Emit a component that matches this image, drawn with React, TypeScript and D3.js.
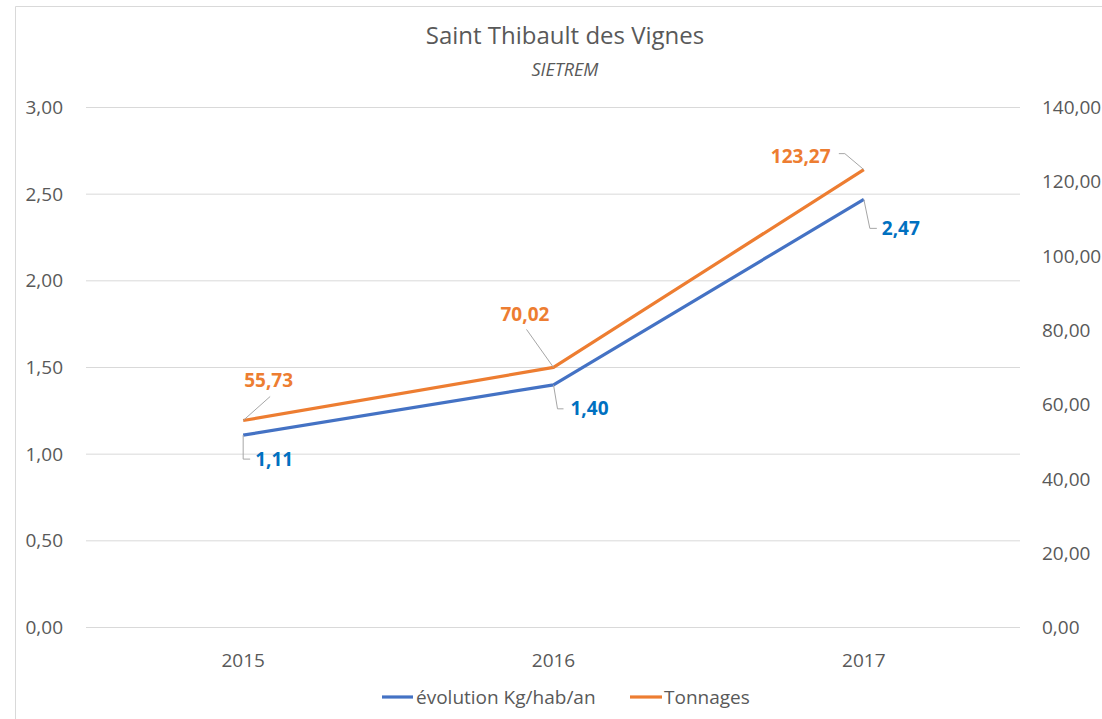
import React from "react";
import * as d3 from "d3";

const years = ["2015", "2016", "2017"];
const kgHabAn = [1.11, 1.40, 2.47];
const tonnages = [55.73, 70.02, 123.27];
const leftTicks = [0, 0.5, 1, 1.5, 2, 2.5, 3];
const rightTicks = [0, 20, 40, 60, 80, 100, 120, 140];
const seriesNames = ["évolution Kg/hab/an", "Tonnages"];

const W = 1102, H = 719;
const FONT = "'Open Sans', 'Noto Sans', sans-serif";
const BLUE = "#4472C4", ORANGE = "#ED7D31", BLUE_LBL = "#0070C0";
const fmt = (v: number) => v.toFixed(2).replace(".", ",");

export default function App() {
  const x = d3.scaleBand<string>().domain(years).range([88, 1019]);
  const cx = (d: string) => (x(d) as number) + x.bandwidth() / 2;
  const yL = d3.scaleLinear().domain([0, 3]).range([627.5, 107.5]);
  const yR = d3.scaleLinear().domain([0, 140]).range([627.5, 107.5]);

  const lineL = d3.line<number>().x((_, i) => cx(years[i])).y((v) => yL(v));
  const lineR = d3.line<number>().x((_, i) => cx(years[i])).y((v) => yR(v));

  const blueLbl = [
    { tx: 12, ty: 24, leader: (px: number, py: number) => `M${px},${py}V${py + 24}h7` },
    { tx: 17, ty: 24, leader: (px: number, py: number) => `M${px},${py}L${px + 4},${py + 24}h6` },
    { tx: 18, ty: 29, leader: (px: number, py: number) => `M${px},${py}L${px + 6},${py + 29}h7` },
  ];
  const orangeLbl = [
    { tx: 1, ty: -40, leader: (px: number, py: number) => `M${px},${py}L${px + 27},${py - 24}` },
    { tx: -53, ty: -53, leader: (px: number, py: number) => `M${px},${py}L${px - 27},${py - 38}` },
    { tx: -93, ty: -13, leader: (px: number, py: number) => `M${px},${py}L${px - 19},${py - 16}h-6` },
  ];

  return (
    <svg width={W} height={H} style={{ position: "absolute", left: 0, top: 0, background: "#fff" }} fontFamily={FONT}>
      <rect x={0} y={0} width={W} height={H} fill="#fff" />
      <path d={`M15.5,${H}V6.5H${W}`} fill="none" stroke="#d9d9d9" strokeWidth={1} />
      <text x={565} y={44} textAnchor="middle" fontSize={24} fill="#595959">Saint Thibault des Vignes</text>
      <text x={565} y={76} textAnchor="middle" fontSize={18} fontStyle="italic" fill="#595959">SIETREM</text>

      {leftTicks.map((t) => (
        <g key={"l" + t}>
          <line x1={86} x2={1020} y1={yL(t)} y2={yL(t)} stroke="#d9d9d9" strokeWidth={1} />
          <text x={63} y={yL(t)} dy="0.35em" textAnchor="end" fontSize={19} fill="#595959">{fmt(t)}</text>
        </g>
      ))}
      {rightTicks.map((t) => (
        <text key={"r" + t} x={1042} y={yR(t)} dy="0.35em" textAnchor="start" fontSize={19} fill="#595959">{fmt(t)}</text>
      ))}
      {years.map((yv) => (
        <text key={yv} x={cx(yv)} y={660} dy="0.35em" textAnchor="middle" fontSize={19} fill="#595959">{yv}</text>
      ))}

      <path d={lineL(kgHabAn) as string} fill="none" stroke={BLUE} strokeWidth={3.2} strokeLinejoin="round" />
      <path d={lineR(tonnages) as string} fill="none" stroke={ORANGE} strokeWidth={3.2} strokeLinejoin="round" />

      {kgHabAn.map((v, i) => {
        const px = cx(years[i]), py = yL(v);
        const o = blueLbl[i];
        return (
          <g key={"b" + i}>
            <path d={o.leader(px, py)} fill="none" stroke="#a6a6a6" strokeWidth={1} />
            <text x={px + o.tx} y={py + o.ty} dy="0.35em" fontSize={19} fontWeight="bold" fill={BLUE_LBL}>{fmt(v)}</text>
          </g>
        );
      })}
      {tonnages.map((v, i) => {
        const px = cx(years[i]), py = yR(v);
        const o = orangeLbl[i];
        return (
          <g key={"o" + i}>
            <path d={o.leader(px, py)} fill="none" stroke="#a6a6a6" strokeWidth={1} />
            <text x={px + o.tx} y={py + o.ty} dy="0.35em" fontSize={19} fontWeight="bold" fill={ORANGE}>{fmt(v)}</text>
          </g>
        );
      })}

      <g>
        <line x1={382} x2={413} y1={697} y2={697} stroke={BLUE} strokeWidth={3.2} />
        <text x={416} y={697} dy="0.35em" fontSize={19} fill="#595959">{seriesNames[0]}</text>
        <line x1={630} x2={662} y1={697} y2={697} stroke={ORANGE} strokeWidth={3.2} />
        <text x={664} y={697} dy="0.35em" fontSize={19} fill="#595959">{seriesNames[1]}</text>
      </g>
    </svg>
  );
}
